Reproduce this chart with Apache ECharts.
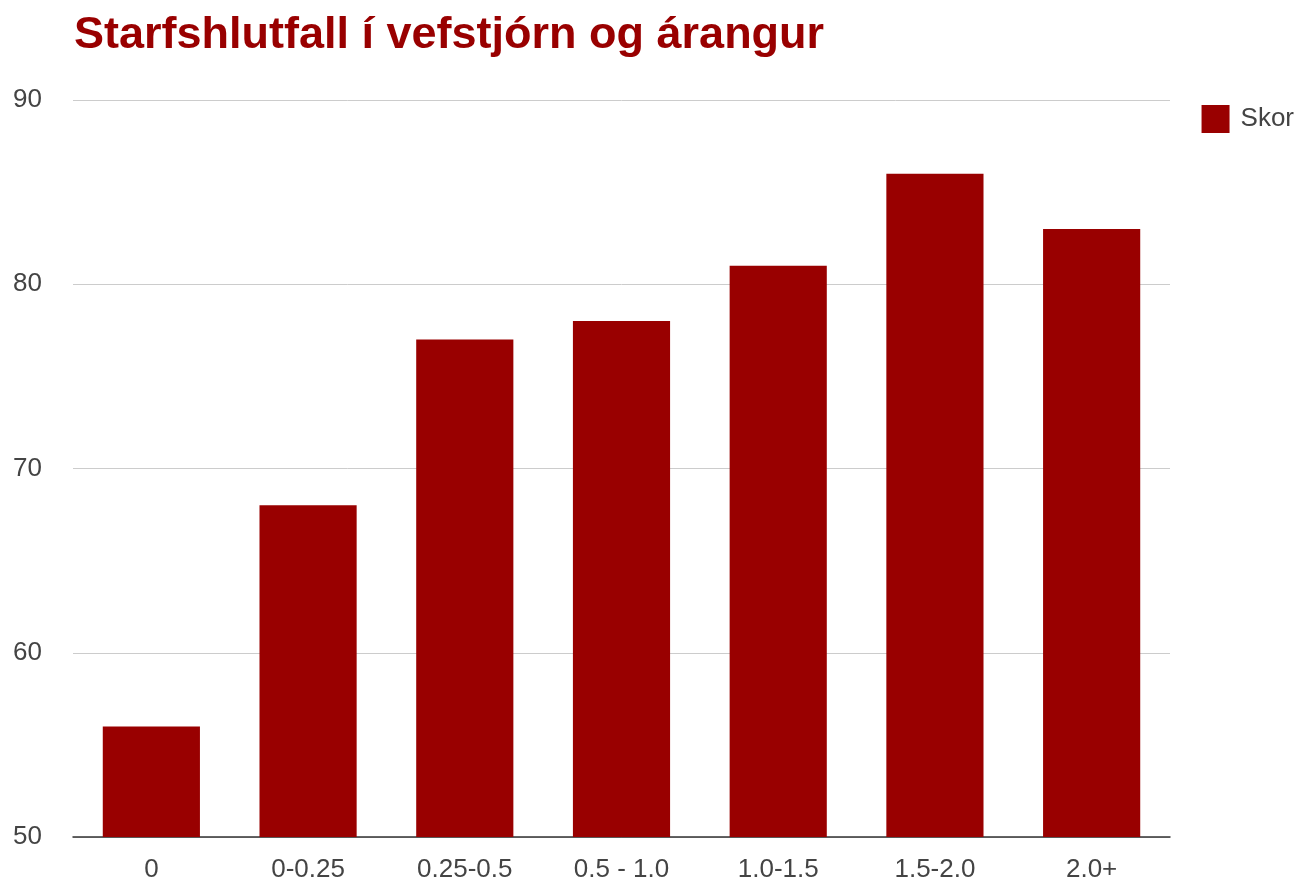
<!DOCTYPE html>
<html>
<head>
<meta charset="utf-8">
<title>Starfshlutfall í vefstjórn og árangur</title>
<script src="https://cdn.jsdelivr.net/npm/echarts@6/dist/echarts.min.js"></script>
<style>
    html, body { margin: 0; padding: 0; background: #fff; }
    #main { width: 1301px; height: 886px; }
</style>
</head>
<body>
<div id="main"></div>
<script type="text/javascript">
    // gögn
    var categories = ['0', '0-0.25', '0.25-0.5', '0.5 - 1.0', '1.0-1.5', '1.5-2.0', '2.0+'];
    var skor = [56, 68, 77, 78, 81, 86, 83];

    var chart = echarts.init(document.getElementById('main'));
    var option = {
        title: {
            text: 'Starfshlutfall í vefstjórn og árangur',
            left: 69,
            top: 8,
            textStyle: {
                fontFamily: 'Liberation Sans, Arial, sans-serif',
                fontSize: 45,
                fontWeight: 'bold',
                color: '#990000'
            }
        },
        legend: {
            data: ['Skor'],
            right: 2,
            top: 100,
            icon: 'rect',
            itemWidth: 28,
            itemHeight: 28,
            textStyle: {
                fontFamily: 'Liberation Sans, Arial, sans-serif',
                fontSize: 26,
                color: '#444',
                padding: [0, 0, 0, 6]
            }
        },
        grid: {
            left: 73,
            right: 131,
            top: 100,
            bottom: 49,
            containLabel: false
        },
        xAxis: {
            type: 'category',
            data: categories,
            axisLine: { lineStyle: { color: '#333', width: 1.5 } },
            axisTick: { show: false },
            axisLabel: {
                margin: 20,
                fontFamily: 'Liberation Sans, Arial, sans-serif',
                fontSize: 26,
                color: '#444'
            }
        },
        yAxis: {
            type: 'value',
            min: 50,
            max: 90,
            interval: 10,
            axisLine: { show: false },
            axisTick: { show: false },
            splitLine: { lineStyle: { color: '#ccc', width: 1 } },
            axisLabel: {
                margin: 31,
                fontFamily: 'Liberation Sans, Arial, sans-serif',
                fontSize: 26,
                color: '#444'
            }
        },
        series: [{
            name: 'Skor',
            type: 'bar',
            data: skor,
            barCategoryGap: '38%',
            itemStyle: { color: '#990000' }
        }]
    };
    chart.setOption(option);
</script>
</body>
</html>
